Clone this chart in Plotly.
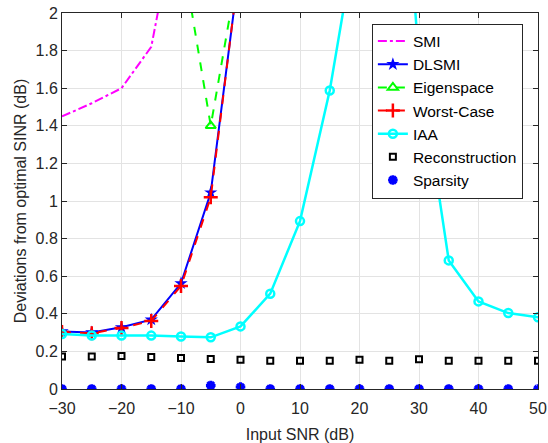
import plotly.graph_objects as go

snr = [-30, -25, -20, -15, -10, -5, 0, 5, 10, 15, 20, 25, 30, 35, 40, 45, 50]

smi = [1.45, 1.52, 1.60, 1.82, 2.64, 3.4, 4.0, 4.5, 5, 5, 5, 5, 5, 5, 5, 5, 5]
dlsmi = [0.306, 0.301, 0.328, 0.369, 0.562, 1.045, 2.29, 4, 5, 5, 5, 5, 5, 5, 5, 5, 5]
eigen = [5, 4.5, 3.5, 3.0, 2.35, 1.40, 2.31, 4, 5, 5, 5, 5, 5, 5, 5, 5, 5]
worst = [0.303, 0.296, 0.325, 0.362, 0.548, 1.02, 2.30, 4, 5, 5, 5, 5, 5, 5, 5, 5, 5]
iaa = [0.292, 0.285, 0.284, 0.284, 0.279, 0.275, 0.333, 0.507, 0.893, 1.588, 2.52, 3.9, 1.74, 0.684, 0.466, 0.404, 0.381]
recon = [0.173, 0.173, 0.175, 0.170, 0.165, 0.160, 0.155, 0.150, 0.150, 0.150, 0.156, 0.150, 0.158, 0.150, 0.150, 0.150, 0.150]
sparsity = [0.0, 0.0, 0.0, 0.0, 0.0, 0.019, 0.010, 0.0, 0.0, 0.0, 0.0, 0.0, 0.0, 0.0, 0.0, 0.0, 0.0]

xticks = [-30, -20, -10, 0, 10, 20, 30, 40, 50]
yticks = [0, 0.2, 0.4, 0.6, 0.8, 1, 1.2, 1.4, 1.6, 1.8, 2]
ytick_text = ["0", "0.2", "0.4", "0.6", "0.8", "1", "1.2", "1.4", "1.6", "1.8", "2"]

FONT = "Liberation Sans, Arial, Helvetica"

fig = go.Figure()
fig.add_trace(go.Scatter(x=snr, y=smi, name="SMI", mode="lines",
                         line=dict(color="#FF00FF", width=2, dash="dashdot")))
fig.add_trace(go.Scatter(x=snr, y=dlsmi, name="DLSMI", mode="lines+markers",
                         line=dict(color="#0000FF", width=2),
                         marker=dict(symbol="star", size=10, color="#0000FF")))
fig.add_trace(go.Scatter(x=snr, y=eigen, name="Eigenspace", mode="lines+markers",
                         line=dict(color="#00FF00", width=2, dash="dash"),
                         marker=dict(symbol="triangle-up-open", size=9, color="#00FF00",
                                     line=dict(width=2, color="#00FF00"))))
fig.add_trace(go.Scatter(x=snr, y=worst, name="Worst-Case", mode="lines+markers",
                         line=dict(color="#FF0000", width=2, dash="dash"),
                         marker=dict(symbol="cross-thin-open", size=10, color="#FF0000",
                                     line=dict(width=2.5, color="#FF0000"))))
fig.add_trace(go.Scatter(x=snr, y=iaa, name="IAA", mode="lines+markers",
                         line=dict(color="#00FFFF", width=2.5),
                         marker=dict(symbol="circle-open", size=8, color="#00FFFF",
                                     line=dict(width=2.5, color="#00FFFF"))))
fig.add_trace(go.Scatter(x=snr, y=recon, name="Reconstruction", mode="markers",
                         marker=dict(symbol="square-open", size=6, color="black",
                                     line=dict(width=2, color="black"))))
fig.add_trace(go.Scatter(x=snr, y=sparsity, name="Sparsity", mode="markers",
                         marker=dict(symbol="asterisk-open", size=8, color="#0000FF",
                                     line=dict(width=3, color="#0000FF"))))

axis_common = dict(showline=True, linecolor="#262626", linewidth=1, mirror="ticks",
                   ticks="inside", ticklen=5, tickcolor="#262626",
                   showgrid=True, gridcolor="#E3E3E3", gridwidth=1, zeroline=False,
                   automargin=False,
                   tickfont=dict(family=FONT, size=16, color="#262626"),
                   title_font=dict(family=FONT, size=16, color="#262626"))

fig.update_layout(
    width=548, height=443,
    margin=dict(l=62, r=10, t=13, b=54),
    plot_bgcolor="white", paper_bgcolor="white",
    showlegend=True,
    legend=dict(x=0.651, y=0.972, xanchor="left", yanchor="top",
                bgcolor="white", bordercolor="#262626", borderwidth=1,
                font=dict(family=FONT, size=15.5, color="#000000"),
                tracegroupgap=0, itemwidth=30),
)
fig.update_xaxes(range=[-30, 50], tickvals=xticks, title_text="Input SNR (dB)",
                 ticklabelstandoff=5, title_standoff=12, **axis_common)
fig.update_yaxes(range=[0, 2], tickvals=yticks, ticktext=ytick_text,
                 title_text="Deviations from optimal SINR (dB)", title_standoff=4, **axis_common)

fig.write_html("out.html")
